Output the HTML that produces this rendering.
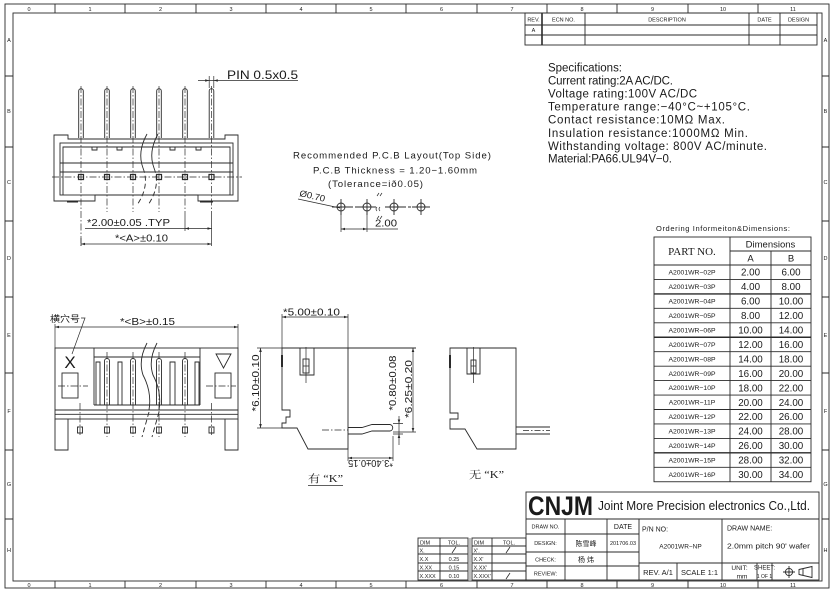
<!DOCTYPE html>
<html><head><meta charset="utf-8"><style>
html,body{margin:0;padding:0;background:#fff;}
svg{display:block;}
text{font-family:"Liberation Sans","Noto Sans CJK SC",sans-serif;fill:#1a1a1a;stroke:none;}
.sf{font-family:"Liberation Serif","Noto Serif CJK SC",serif;}
</style></head><body>
<svg width="830" height="593" viewBox="0 0 830 593" xmlns="http://www.w3.org/2000/svg">
<rect width="830" height="593" fill="#fff"/>
<g fill="none" stroke="#2a2a2a" stroke-width="0.9">
<!-- frame -->
<rect x="5" y="4" width="824" height="584"/>
<rect x="13" y="13" width="809" height="568"/>
<path d="M55,4V13M125,4V13M196,4V13M266,4V13M336,4V13M406,4V13M477,4V13M547,4V13M617,4V13M688,4V13M758,4V13"/>
<path d="M55,581V588M125,581V588M196,581V588M266,581V588M336,581V588M406,581V588M477,581V588M547,581V588M617,581V588M688,581V588M758,581V588"/>
<path d="M5,76H13M5,147H13M5,221H13M5,297H13M5,373H13M5,450H13M5,519H13"/>
<path d="M822,76H829M822,147H829M822,221H829M822,297H829M822,373H829M822,450H829M822,519H829"/>
<!-- header rev table -->
<rect x="525" y="13" width="292" height="32"/>
<path d="M525,25H817M525,35H817M585,13V45M749,13V45M780,13V45"/>
<path d="M542,13V45" stroke-width="1.6"/>

<!-- ordering table -->
<rect x="654" y="237" width="157" height="244.75"/>
<path d="M730,237V481.75M771,251V481.75M730,251H811M654,265H811"/>
<path d="M654,279.45H811M654,308.35H811M654,322.8H811M654,351.7H811M654,366.15H811M654,380.6H811M654,395.05H811M654,409.5H811M654,423.95H811M654,438.4H811M654,467.3H811"/>
<path d="M654,293.9H811M654,337.25H811M654,452.85H811" stroke-width="1.4"/>

<!-- title block -->
<rect x="526" y="492" width="293" height="88"/>
<path d="M526,519H819M526,534H639M526,552H639M526,566H639M639,563H819"/>
<path d="M565,519V580M607,519V580M639,519V580M722,519V580M677,563V580M757,563V580M772,563V580"/>
<!-- projection symbol -->
<circle cx="789" cy="572" r="3.6"/>
<path d="M783,572H795M789,566V578"/>
<path d="M799,569.5L812,566.5V577.5L799,574.5ZM803,568.6V575.4"/>

<!-- DIM TOL tables -->
<rect x="418" y="538" width="50" height="42"/>
<path d="M418,546H468M418,554H468M418,563H468M418,571H468M440,538V580"/>
<rect x="472" y="538" width="54" height="42"/>
<path d="M472,546H526M472,554H526M472,563H526M472,571H526M492,538V580"/>
<path d="M470,538V580" stroke-width="0.6"/>
<path d="M452,553L456,547M506,553L510,547M506,579L510,573" stroke-width="0.8"/>
</g>

<!-- frame labels -->
<g font-size="5.5" text-anchor="middle">
<text x="29" y="10.8">0</text><text x="90" y="10.8">1</text><text x="160.5" y="10.8">2</text><text x="231" y="10.8">3</text><text x="301" y="10.8">4</text><text x="371" y="10.8">5</text><text x="441.5" y="10.8">6</text><text x="512" y="10.8">7</text><text x="582" y="10.8">8</text><text x="652.5" y="10.8">9</text><text x="723" y="10.8">10</text><text x="793" y="10.8">11</text>
<text x="29" y="586.8">0</text><text x="90" y="586.8">1</text><text x="160.5" y="586.8">2</text><text x="231" y="586.8">3</text><text x="301" y="586.8">4</text><text x="371" y="586.8">5</text><text x="441.5" y="586.8">6</text><text x="512" y="586.8">7</text><text x="582" y="586.8">8</text><text x="652.5" y="586.8">9</text><text x="723" y="586.8">10</text><text x="793" y="586.8">11</text>
<text x="9" y="42">A</text><text x="9" y="113">B</text><text x="9" y="184">C</text><text x="9" y="260">D</text><text x="9" y="337">E</text><text x="9" y="413">F</text><text x="9" y="486">G</text><text x="9" y="552">H</text>
<text x="825.5" y="42">A</text><text x="825.5" y="113">B</text><text x="825.5" y="184">C</text><text x="825.5" y="260">D</text><text x="825.5" y="337">E</text><text x="825.5" y="413">F</text><text x="825.5" y="486">G</text><text x="825.5" y="552">H</text>
</g>

<!-- header table text -->
<g font-size="5.5" text-anchor="middle">
<text x="533.5" y="21.5">REV.</text>
<text x="563.5" y="21.5">ECN NO.</text>
<text x="667" y="21.5">DESCRIPTION</text>
<text x="764.5" y="21.5">DATE</text>
<text x="798.5" y="21.5">DESIGN</text>
<text x="533.5" y="32">A</text>
</g>

<!-- specifications -->
<g font-size="11.5">
<text x="548" y="71.5" fill="#333" textLength="74" lengthAdjust="spacing">Specifications:</text>
<text x="548" y="84.5" fill="#333" textLength="125" lengthAdjust="spacing">Current rating:2A AC/DC.</text>
<text x="548" y="97.5" fill="#333" textLength="149" lengthAdjust="spacing">Voltage rating:100V AC/DC</text>
<text x="548" y="110.5" fill="#333" textLength="202" lengthAdjust="spacing">Temperature range:−40°C~+105°C.</text>
<text x="548" y="123.5" fill="#333" textLength="177" lengthAdjust="spacing">Contact resistance:10MΩ Max.</text>
<text x="548" y="137" fill="#333" textLength="200" lengthAdjust="spacing">Insulation resistance:1000MΩ Min.</text>
<text x="548" y="150" fill="#333" textLength="219" lengthAdjust="spacing">Withstanding voltage: 800V AC/minute.</text>
<text x="548" y="162.5" fill="#333" textLength="124" lengthAdjust="spacing">Material:PA66.UL94V−0.</text>
</g>

<!-- ordering table text -->
<text x="656" y="231" font-size="7.5" textLength="134" lengthAdjust="spacing">Ordering Informeiton&amp;Dimensions:</text>
<text x="692" y="255" font-size="11" text-anchor="middle" class="sf">PART NO.</text>
<text x="770.5" y="247.5" font-size="9.5" text-anchor="middle">Dimensions</text>
<text x="750.5" y="261.5" font-size="9.5" text-anchor="middle">A</text>
<text x="791" y="261.5" font-size="9.5" text-anchor="middle">B</text>
<g font-size="6.8" text-anchor="middle">
<text x="692" y="274.6">A2001WR−02P</text>
<text x="692" y="289.1">A2001WR−03P</text>
<text x="692" y="303.5">A2001WR−04P</text>
<text x="692" y="318">A2001WR−05P</text>
<text x="692" y="332.4">A2001WR−06P</text>
<text x="692" y="346.9">A2001WR−07P</text>
<text x="692" y="361.3">A2001WR−08P</text>
<text x="692" y="375.8">A2001WR−09P</text>
<text x="692" y="390.2">A2001WR−10P</text>
<text x="692" y="404.7">A2001WR−11P</text>
<text x="692" y="419.1">A2001WR−12P</text>
<text x="692" y="433.6">A2001WR−13P</text>
<text x="692" y="448">A2001WR−14P</text>
<text x="692" y="462.5">A2001WR−15P</text>
<text x="692" y="476.9">A2001WR−16P</text>
</g>
<g font-size="9.8" text-anchor="middle">
<text x="750.5" y="275.7">2.00</text><text x="791" y="275.7">6.00</text>
<text x="750.5" y="290.2">4.00</text><text x="791" y="290.2">8.00</text>
<text x="750.5" y="304.6">6.00</text><text x="791" y="304.6">10.00</text>
<text x="750.5" y="319.1">8.00</text><text x="791" y="319.1">12.00</text>
<text x="750.5" y="333.5">10.00</text><text x="791" y="333.5">14.00</text>
<text x="750.5" y="348">12.00</text><text x="791" y="348">16.00</text>
<text x="750.5" y="362.4">14.00</text><text x="791" y="362.4">18.00</text>
<text x="750.5" y="376.9">16.00</text><text x="791" y="376.9">20.00</text>
<text x="750.5" y="391.3">18.00</text><text x="791" y="391.3">22.00</text>
<text x="750.5" y="405.8">20.00</text><text x="791" y="405.8">24.00</text>
<text x="750.5" y="420.2">22.00</text><text x="791" y="420.2">26.00</text>
<text x="750.5" y="434.7">24.00</text><text x="791" y="434.7">28.00</text>
<text x="750.5" y="449.1">26.00</text><text x="791" y="449.1">30.00</text>
<text x="750.5" y="463.6">28.00</text><text x="791" y="463.6">32.00</text>
<text x="750.5" y="478">30.00</text><text x="791" y="478">34.00</text>
</g>

<!-- title block text -->
<text x="528" y="515" font-size="27" font-weight="bold" textLength="65" lengthAdjust="spacingAndGlyphs" fill="#000">CNJM</text>
<text x="598" y="510" font-size="12.5" textLength="212" lengthAdjust="spacingAndGlyphs">Joint More Precision electronics Co.,Ltd.</text>
<g font-size="5.5" text-anchor="middle">
<text x="545.5" y="528.5">DRAW NO.</text>
<text x="545.5" y="545">DESIGN:</text>
<text x="545.5" y="561.5">CHECK:</text>
<text x="545.5" y="575.5">REVIEW:</text>
<text x="623" y="545">201706.03</text>
</g>
<text x="623" y="529" font-size="7" text-anchor="middle">DATE</text>
<text x="586" y="546" font-size="7" text-anchor="middle">陈雪峰</text>
<text x="586" y="562" font-size="7" text-anchor="middle">杨 炜</text>
<text x="642" y="531.5" font-size="7">P/N NO:</text>
<text x="680.5" y="548.5" font-size="6.5" text-anchor="middle">A2001WR−NP</text>
<text x="727" y="530.5" font-size="7">DRAW NAME:</text>
<text x="727" y="548.5" font-size="7" textLength="83" lengthAdjust="spacingAndGlyphs">2.0mm pitch 90' wafer</text>
<text x="658" y="575" font-size="7.5" text-anchor="middle">REV. A/1</text>
<text x="699.5" y="575" font-size="7.5" text-anchor="middle">SCALE 1:1</text>
<text x="739.5" y="570" font-size="6.5" text-anchor="middle">UNIT:</text>
<text x="742" y="578.5" font-size="6.5" text-anchor="middle">mm</text>
<text x="764.5" y="569.5" font-size="6" text-anchor="middle">SHEET:</text>
<text x="764.5" y="578" font-size="5" text-anchor="middle">1 OF 1</text>

<!-- DIM TOL text -->
<g font-size="5.5">
<text x="420" y="544.5">DIM</text><text x="454" y="544.5" text-anchor="middle">TOL.</text>
<text x="419.5" y="552.5">X.</text>
<text x="419.5" y="561">X.X</text><text x="454" y="561" text-anchor="middle">0.25</text>
<text x="419.5" y="569.5">X.XX</text><text x="454" y="569.5" text-anchor="middle">0.15</text>
<text x="419.5" y="578">X.XXX</text><text x="454" y="578" text-anchor="middle">0.10</text>
<text x="474" y="544.5">DIM</text><text x="509" y="544.5" text-anchor="middle">TOL.</text>
<text x="473.5" y="552.5">X'.</text>
<text x="473.5" y="561">X.X'</text>
<text x="473.5" y="569.5">X.XX'</text>
<text x="473.5" y="578">X.XXX'</text>
</g>

<!-- ===== Drawing 1: top-left front view ===== -->
<g fill="none" stroke="#2a2a2a" stroke-width="0.9">
<path d="M78.7,138V91A2.3,2.3 0 0 1 83.3,91V138M104.7,138V91A2.3,2.3 0 0 1 109.3,91V138M130.7,138V91A2.3,2.3 0 0 1 135.3,91V138M156.7,138V91A2.3,2.3 0 0 1 161.3,91V138M182.7,138V91A2.3,2.3 0 0 1 187.3,91V138M209.2,138V91A2.3,2.3 0 0 1 213.8,91V138"/>
<path d="M54,135H68V139H225V135H238V201H198V195H95V201H54Z"/>
<rect x="60" y="143" width="173" height="52"/>
<path d="M63,195V147H230V195M60,163H233M60,172H233"/>
<path d="M92,147h5v3h-5zM117,147h5v3h-5zM170,147h5v3h-5zM196,147h5v3h-5z"/>
<path d="M67,201.5H78M200,201.5H213" stroke-width="2"/>
<path d="M78.5,174.5h5v5h-5zM104.5,174.5h5v5h-5zM130.5,174.5h5v5h-5zM156.5,174.5h5v5h-5zM182.5,174.5h5v5h-5zM209,174.5h5v5h-5z" stroke-width="1.2"/>
<g stroke-dasharray="7 2 1.5 2" stroke-width="0.7">
<path d="M81,86V246M107,86V212M133,86V212M159,86V212M185,86V212M211.5,86V212"/>
<path d="M52,177H242"/>
</g>
<path d="M185,212V231M81,238V246M211.5,212V246" stroke-width="0.7"/>
<path d="M147,134Q137,152 143,168M158,134Q148,152 154,168"/>
<path d="M143,168Q150,186 137,205M154,168Q161,186 148,205" stroke-dasharray="5 3"/>
<!-- dims -->
<path d="M85,228.5H212M81,244H211.5" stroke-width="0.7"/>
<path d="M198,80.5H298M209.2,76V88M213.8,76V88" stroke-width="0.7"/>
</g>
<g fill="#2a2a2a">
<path d="M185,228.5l4,-1.3v2.6zM211.5,228.5l-4,-1.3v2.6zM81,244l4,-1.3v2.6zM211.5,244l-4,-1.3v2.6zM209.2,80.5l-4,-1.3v2.6zM213.8,80.5l4,-1.3v2.6z"/>
</g>
<text x="227" y="79" font-size="12" textLength="71" lengthAdjust="spacingAndGlyphs">PIN 0.5x0.5</text>
<text x="87" y="226" font-size="10.5" textLength="83" lengthAdjust="spacingAndGlyphs">*2.00±0.05 .TYP</text>
<text x="115" y="241.5" font-size="10.5" textLength="53" lengthAdjust="spacingAndGlyphs">*&lt;A&gt;±0.10</text>

<!-- ===== PCB layout ===== -->
<text x="293" y="158.5" font-size="9.6" textLength="198" lengthAdjust="spacing">Recommended P.C.B Layout(Top Side)</text>
<text x="313" y="173.5" font-size="9.6" textLength="164" lengthAdjust="spacing">P.C.B Thickness = 1.20−1.60mm</text>
<text x="328" y="187" font-size="9.6" textLength="95" lengthAdjust="spacing">(Tolerance=ið0.05)</text>
<text x="0" y="0" font-size="9" transform="translate(299,196) rotate(13)" textLength="26" lengthAdjust="spacingAndGlyphs">Ø0.70</text>
<g fill="none" stroke="#2a2a2a" stroke-width="0.9">
<circle cx="341" cy="207" r="4"/><circle cx="367" cy="207" r="4"/><circle cx="394" cy="207" r="4"/><circle cx="421" cy="207" r="4"/>
<path d="M332,207H350M341,199V215M358,207H376M367,199V215M385,207H403M394,199V215M412,207H430M421,199V215"/>
<path d="M350,207H358M403,207H412" stroke-dasharray="3 2"/>
<path d="M298,199L340,208" stroke-width="0.7"/>
<path d="M377,196l2,-3M380,196l2,-3M377,211q-2,-2 0,-4M380,211q-2,-2 0,-4M377,219l2,-3M380,219l2,-3" stroke-width="0.7"/>
<path d="M341,212V232M367,212V232M341,229H398" stroke-width="0.7"/>
</g>
<path d="M341,229l4,-1.3v2.6zM367,229l-4,-1.3v2.6z" fill="#2a2a2a"/>
<text x="375" y="226.5" font-size="10.5" textLength="22" lengthAdjust="spacingAndGlyphs">2.00</text>

<!-- ===== Bottom-left view ===== -->
<g fill="none" stroke="#2a2a2a" stroke-width="0.9">
<rect x="55" y="348" width="183" height="71"/>
<path d="M55,410H238M55,414.3H238"/>
<path d="M55,419V450H68V419M225,419V450H238V419"/>
<path d="M94,348V405M200,348V405M94,357H200M94,405H200"/>
<path d="M96,362h4v43h-4zM118,362h4v43h-4zM170,362h5v43h-5zM195,362h4v43h-4z"/>
<path d="M104.5,405V361A2.5,2.5 0 0 1 109.5,361V405M130.5,405V361A2.5,2.5 0 0 1 135.5,361V405M156.5,405V361A2.5,2.5 0 0 1 161.5,361V405M182.5,405V361A2.5,2.5 0 0 1 187.5,361V405"/>
<path d="M77.5,427h5v6h-5zM104.5,427h5v6h-5zM130.5,427h5v6h-5zM156.5,427h5v6h-5zM182.5,427h5v6h-5zM209,427h5v6h-5z"/>
<g stroke-dasharray="7 2 1.5 2" stroke-width="0.7">
<path d="M107,352V437M133,352V437M159,352V437M185,352V437M80,403V437M211.5,403V437"/>
<path d="M58,386H88M206,386H236"/>
</g>
<rect x="62" y="373" width="16" height="25"/>
<rect x="215" y="373" width="16" height="25"/>
<path d="M216,354H231L223.5,368Z"/>
<path d="M147,343Q138,360 143,375Q152,392 149,410M157,343Q148,360 153,375Q162,392 159,410"/>
<path d="M149,412L142,437M159,412L152,437" stroke-dasharray="5 3"/>
<path d="M81,318H85L72,354" stroke-width="0.7"/>
<path d="M55,324V348M238,324V348M55,327H238" stroke-width="0.7"/>
<path d="M260.5,348V428M257,348H282M257,428H282" stroke-width="0.7"/>
</g>
<path d="M55,327l4,-1.3v2.6zM238,327l-4,-1.3v2.6zM260.5,348l-1.3,4h2.6zM260.5,428l-1.3,-4h2.6z" fill="#2a2a2a"/>
<text x="70" y="368" font-size="17" text-anchor="middle" fill="#000">X</text>
<text x="50" y="322" font-size="9" textLength="30" lengthAdjust="spacingAndGlyphs">横穴号</text>
<text x="120" y="325" font-size="10.5" textLength="55" lengthAdjust="spacingAndGlyphs">*&lt;B&gt;±0.15</text>
<text x="0" y="0" font-size="10.5" text-anchor="middle" transform="translate(259,383) rotate(-90)" textLength="57" lengthAdjust="spacingAndGlyphs">*6.10±0.10</text>

<!-- ===== Side view with K ===== -->
<g fill="none" stroke="#2a2a2a" stroke-width="0.9">
<path d="M282,348H348V449H308L297,428H282V423H286V417H290V410H282Z"/>
<path d="M348,348H416"/>
<path d="M300,348V375H314V348"/>
<rect x="303" y="359" width="6" height="14"/>
<path d="M306,347V383M303,366H309" stroke-width="0.7"/>
<path d="M282,355V367" stroke-width="2"/>
<path d="M348,427.5H362L372,424.5H390M348,434H362L372,431H390M390,424.5A3.3,3.3 0 0 1 390,431"/>
<path d="M322,430H348" stroke-dasharray="7 2 1.5 2" stroke-width="0.7"/>
<path d="M282,314V348M348,314V348M282,317H348" stroke-width="0.7"/>
<path d="M413,348V432M393,432H416M393,423.5H403M393,434H403M399,416V445" stroke-width="0.7"/>
<path d="M348,449V461M393,436V461M348,458H393" stroke-width="0.7"/>
<path d="M308,485.5H343" stroke-width="0.8"/>
</g>
<path d="M282,317l4,-1.3v2.6zM348,317l-4,-1.3v2.6zM413,348l-1.3,4h2.6zM413,432l-1.3,-4h2.6zM399,423.5l-1.3,-4h2.6zM399,434l-1.3,4h2.6zM348,458l4,-1.3v2.6zM393,458l-4,-1.3v2.6z" fill="#2a2a2a"/>
<text x="283" y="315.5" font-size="10.5" textLength="57" lengthAdjust="spacingAndGlyphs">*5.00±0.10</text>
<text x="0" y="0" font-size="10.5" text-anchor="middle" transform="translate(396,383) rotate(-90)" textLength="55" lengthAdjust="spacingAndGlyphs">*0.80±0.08</text>
<text x="0" y="0" font-size="10.5" text-anchor="middle" transform="translate(412,389) rotate(-90)" textLength="58" lengthAdjust="spacingAndGlyphs">*6.25±0.20</text>
<text x="0" y="0" font-size="10.5" text-anchor="middle" transform="translate(370.5,460) rotate(180)" textLength="45" lengthAdjust="spacingAndGlyphs">*3.40±0.15</text>
<text x="308" y="482" font-size="10.5" class="sf" textLength="35" lengthAdjust="spacingAndGlyphs">有 “K”</text>

<!-- ===== Side view without K ===== -->
<g fill="none" stroke="#2a2a2a" stroke-width="0.9">
<path d="M450,348H516V449H477L465,429H450V419H458V413H450Z"/>
<path d="M467,348V374H480V348"/>
<rect x="471" y="360" width="5" height="13"/>
<path d="M473.5,347V383M471,366H476" stroke-width="0.7"/>
<path d="M450,355V368" stroke-width="2"/>
<path d="M516,427H550M516,434H550"/>
<path d="M523,430.5H550" stroke-dasharray="6 2 1.5 2" stroke-width="0.7"/>
</g>
<text x="469" y="478" font-size="10.5" class="sf" textLength="35" lengthAdjust="spacingAndGlyphs">无 “K”</text>
</svg>
</body></html>
